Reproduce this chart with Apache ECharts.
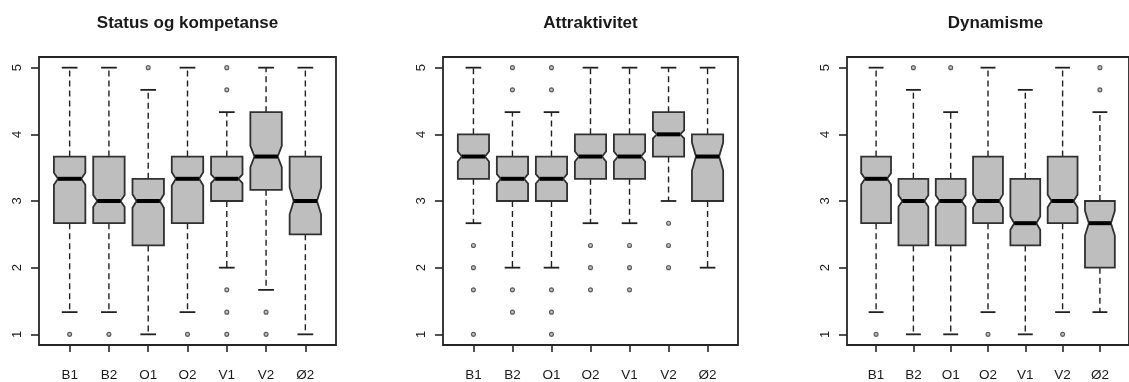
<!DOCTYPE html>
<html>
<head>
<meta charset="utf-8">
<script src="https://cdn.jsdelivr.net/npm/echarts@6/dist/echarts.min.js"></script>
<style>
  html, body { margin: 0; padding: 0; background: #ffffff; }
  #chart { width: 1129px; height: 382px; }
</style>
</head>
<body>
<div id="chart"></div>
<script>
// Groups along the x axis and the y tick values
const categories = ['B1', 'B2', 'O1', 'O2', 'V1', 'V2', 'Ø2'];
const yTicks = [1, 2, 3, 4, 5];
const panelTitles = ['Status og kompetanse', 'Attraktivitet', 'Dynamisme'];

// Each row: [lower whisker, Q1, median, Q3, upper whisker]
const statusStats = [
  [1.333, 2.667, 3.333, 3.667, 5],
  [1.333, 2.667, 3, 3.667, 5],
  [1, 2.333, 3, 3.333, 4.667],
  [1.333, 2.667, 3.333, 3.667, 5],
  [2, 3, 3.333, 3.667, 4.333],
  [1.667, 3.167, 3.667, 4.333, 5],
  [1, 2.5, 3, 3.667, 5]
];
// Half height of the notch around each median
const statusNotch = [0.09, 0.09, 0.1, 0.1, 0.065, 0.16, 0.2];
const statusOutliers = [[1], [1], [5], [1], [5, 4.667, 1.667, 1.333, 1], [1.333, 1], []];

const attrStats = [
  [2.667, 3.333, 3.667, 4, 5],
  [2, 3, 3.333, 3.667, 4.333],
  [2, 3, 3.333, 3.667, 4.333],
  [2.667, 3.333, 3.667, 4, 5],
  [2.667, 3.333, 3.667, 4, 5],
  [3, 3.667, 4, 4.333, 5],
  [2, 3, 3.667, 4, 5]
];
const attrNotch = [0.075, 0.07, 0.07, 0.075, 0.075, 0.06, 0.21];
const attrOutliers = [[2.333, 2, 1.667, 1], [5, 4.667, 1.667, 1.333], [5, 4.667, 1.667, 1.333, 1],
  [2.333, 2, 1.667], [2.333, 2, 1.667], [2.667, 2.333, 2], []];

const dynStats = [
  [1.333, 2.667, 3.333, 3.667, 5],
  [1, 2.333, 3, 3.333, 4.667],
  [1, 2.333, 3, 3.333, 4.333],
  [1.333, 2.667, 3, 3.667, 5],
  [1, 2.333, 2.667, 3.333, 4.667],
  [1.333, 2.667, 3, 3.667, 5],
  [1.333, 2, 2.667, 3, 4.333]
];
const dynNotch = [0.085, 0.085, 0.085, 0.1, 0.1, 0.095, 0.185];
const dynOutliers = [[1], [5], [5], [1], [], [1], [5, 4.667]];

const panels = [
  { stats: statusStats, notch: statusNotch, outliers: statusOutliers },
  { stats: attrStats, notch: attrNotch, outliers: attrOutliers },
  { stats: dynStats, notch: dynNotch, outliers: dynOutliers }
];

const gridBoxes = [
  { left: 39, width: 297 },
  { left: 443, width: 295 },
  { left: 847, width: 297 }
];
const gridTop = 57;
const gridHeight = 289;

const ink = '#1a1a1a';
const frameColor = '#262626';
const boxFill = '#bebebe';
const boxWidth = 0.8;
const notchInset = 0.13;   // fraction of box width pulled in at the median

function renderBox(params, api) {
  const x = api.value(0);
  const lo = api.value(1), q1 = api.value(2), med = api.value(3), q3 = api.value(4), hi = api.value(5);
  const nh = api.value(6);
  const w = api.size([boxWidth, 0])[0];
  const cx = api.coord([x, med])[0];
  const L = cx - w / 2, R = cx + w / 2;
  const ins = w * notchInset;
  const Y = v => api.coord([x, v])[1];
  const yLo = Y(lo), yQ1 = Y(q1), yMed = Y(med), yQ3 = Y(q3), yHi = Y(hi);
  const yNu = Y(med + nh), yNd = Y(med - nh);
  const dash = { stroke: '#202020', lineWidth: 1.4, lineDash: [6, 4] };
  const solid = { stroke: '#202020', lineWidth: 1.8 };
  const st = w / 4;
  return {
    type: 'group',
    children: [
      { type: 'line', shape: { x1: cx, y1: yQ3, x2: cx, y2: yHi }, style: dash },
      { type: 'line', shape: { x1: cx, y1: yQ1, x2: cx, y2: yLo }, style: dash },
      { type: 'line', shape: { x1: cx - st, y1: yHi, x2: cx + st, y2: yHi }, style: solid },
      { type: 'line', shape: { x1: cx - st, y1: yLo, x2: cx + st, y2: yLo }, style: solid },
      {
        type: 'polygon',
        shape: {
          points: [
            [L, yQ3], [R, yQ3], [R, yNu], [R - ins, yMed], [R, yNd],
            [R, yQ1], [L, yQ1], [L, yNd], [L + ins, yMed], [L, yNu]
          ]
        },
        style: { fill: boxFill, stroke: '#303030', lineWidth: 1.8 }
      },
      { type: 'line', shape: { x1: L + ins, y1: yMed, x2: R - ins, y2: yMed }, style: { stroke: '#000', lineWidth: 4 } }
    ]
  };
}

const grid = [], xAxis = [], yAxis = [], series = [], graphic = [];
panels.forEach((p, i) => {
  grid.push({
    left: gridBoxes[i].left, width: gridBoxes[i].width, top: gridTop, height: gridHeight,
    show: true, borderColor: frameColor, borderWidth: 1.8, backgroundColor: 'transparent'
  });
  xAxis.push({
    gridIndex: i, type: 'value', min: 0.22, max: 7.78,
    axisLine: { show: false },
    splitLine: { show: false },
    axisTick: { show: true, customValues: [1, 2, 3, 4, 5, 6, 7], length: 7, lineStyle: { color: frameColor, width: 1.6 } },
    axisLabel: {
      customValues: [1, 2, 3, 4, 5, 6, 7], margin: 23,
      formatter: v => categories[Math.round(v) - 1],
      color: ink, fontSize: 13.5, fontFamily: 'Liberation Sans, Arial, sans-serif'
    }
  });
  yAxis.push({
    gridIndex: i, type: 'value', min: 0.84, max: 5.16,
    axisLine: { show: false },
    splitLine: { show: false },
    axisTick: { show: true, customValues: yTicks, length: 8, lineStyle: { color: frameColor, width: 1.6 } },
    axisLabel: {
      customValues: yTicks, rotate: 90, margin: 15,
      color: ink, fontSize: 13, fontFamily: 'Liberation Sans, Arial, sans-serif'
    }
  });
  series.push({
    type: 'custom', xAxisIndex: i, yAxisIndex: i,
    renderItem: renderBox,
    encode: { x: 0, y: [1, 2, 3, 4, 5] },
    data: p.stats.map((s, k) => [k + 1, s[0], s[1], s[2], s[3], s[4], p.notch[k]]),
    silent: true, animation: false
  });
  const pts = [];
  p.outliers.forEach((arr, k) => arr.forEach(v => pts.push([k + 1, v])));
  series.push({
    type: 'scatter', xAxisIndex: i, yAxisIndex: i,
    data: pts, symbol: 'circle', symbolSize: 4,
    itemStyle: { color: '#b0b0b0', borderColor: '#3a3a3a', borderWidth: 1.1 },
    silent: true, animation: false
  });
  graphic.push({
    type: 'text',
    x: gridBoxes[i].left + gridBoxes[i].width / 2,
    y: 23,
    style: {
      text: panelTitles[i], textAlign: 'center', textVerticalAlign: 'middle',
      font: 'bold 17px "Liberation Sans", Arial, sans-serif', fill: ink
    }
  });
});

const chart = echarts.init(document.getElementById('chart'), null, { renderer: 'canvas' });
chart.setOption({
  animation: false,
  backgroundColor: '#ffffff',
  grid, xAxis, yAxis, series, graphic
});
</script>
</body>
</html>
